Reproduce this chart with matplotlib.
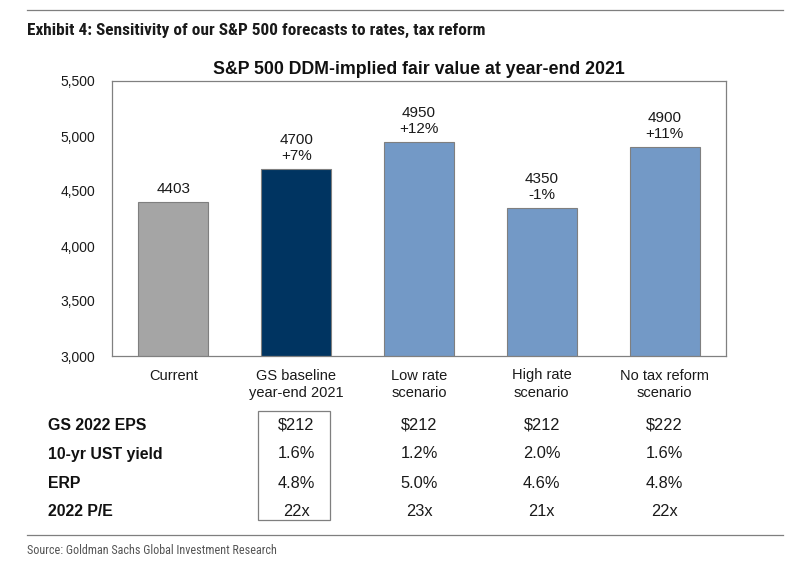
import matplotlib
matplotlib.use("Agg")
import matplotlib.pyplot as plt
from matplotlib.transforms import blended_transform_factory
from matplotlib import font_manager as fm

categories = ["Current", "GS baseline\nyear-end 2021", "Low rate\nscenario", "High rate\nscenario", "No tax reform\nscenario"]
values = [4403, 4700, 4950, 4350, 4900]
pct_labels = ["", "+7%", "+12%", "-1%", "+11%"]
bar_colors = ["#A5A5A5", "#003461", "#7399C6", "#7399C6", "#7399C6"]

row_labels = ["GS 2022 EPS", "10-yr UST yield", "ERP", "2022 P/E"]
eps = ["$212", "$212", "$212", "$222"]
ust = ["1.6%", "1.2%", "2.0%", "1.6%"]
erp = ["4.8%", "5.0%", "4.6%", "4.8%"]
pe = ["22x", "23x", "21x", "22x"]
table_rows = [eps, ust, erp, pe]

yticks = [3000, 3500, 4000, 4500, 5000, 5500]

names = {f.name for f in fm.fontManager.ttflist}
narrow = "DejaVu Sans"
for cand in ["Roboto Condensed", "Archivo Narrow", "Asap Condensed", "Barlow Semi Condensed", "Barlow Condensed"]:
    if cand in names:
        narrow = cand
        break
plt.rcParams['font.family'] = ['Liberation Sans', 'DejaVu Sans']

W, H = 803, 563
fig = plt.figure(figsize=(W / 100, H / 100), dpi=100)
ax = fig.add_axes([112 / W, 1 - 356 / H, 614 / W, 275 / H])

x = list(range(len(categories)))
ax.bar(x, values, width=0.57, color=bar_colors, edgecolor="#7F7F7F", linewidth=0.8)
ax.set_xlim(-0.5, len(categories) - 0.5)
ax.set_ylim(3000, 5500)
ax.set_yticks(yticks)
ax.set_yticklabels([f"{v:,}" for v in yticks])
ax.set_xticks(x)
ax.set_xticklabels(categories, linespacing=1.35)
ax.tick_params(axis='both', length=0, labelsize=10.5, colors="#1a1a1a")
ax.tick_params(axis='y', pad=12, labelsize=10)
ax.tick_params(axis='x', pad=9)
for s in ax.spines.values():
    s.set_color("#808080")
    s.set_linewidth(0.9)

for xi, v, p in zip(x, values, pct_labels):
    lab = f"{v}" if not p else f"{v}\n{p}"
    ax.annotate(lab, (xi, v), xytext=(0, 4), textcoords="offset points",
                ha="center", va="bottom", fontsize=11, linespacing=1.22, color="#1a1a1a")

ax.set_title("S&P 500 DDM-implied fair value at year-end 2021", fontsize=12.8,
             fontweight="bold", pad=5, color="#111111")

# header
fig.add_artist(plt.Line2D([27 / W, 783 / W], [1 - 10 / H, 1 - 10 / H], color="#7F7F7F", lw=0.9))
fig.text(27 / W, 1 - 30 / H, "Exhibit 4: Sensitivity of our S&P 500 forecasts to rates, tax reform",
         family=[narrow, 'DejaVu Sans'], fontweight="bold", fontsize=12.4, va="center", ha="left", color="#1a1a1a")

# table
tr = blended_transform_factory(ax.transData, fig.transFigure)
row_y = [425, 454, 483, 511]
for lab, ry, row in zip(row_labels, row_y, table_rows):
    fig.text(48 / W, 1 - ry / H, lab, fontsize=11.4, fontweight="bold", va="center", ha="left", color="#111111")
    for xi, val in zip(x[1:], row):
        ax.text(xi, 1 - ry / H, val, transform=tr, fontsize=11.8, va="center", ha="center",
                color="#1a1a1a", clip_on=False)

box = plt.Rectangle((0.69, 1 - 520 / H), 0.585, 109 / H, transform=tr, fill=False,
                    edgecolor="#7F7F7F", lw=0.9, clip_on=False)
fig.add_artist(box)

fig.add_artist(plt.Line2D([27 / W, 783 / W], [1 - 535 / H, 1 - 535 / H], color="#7F7F7F", lw=0.9))
fig.text(27 / W, 1 - 550 / H, "Source: Goldman Sachs Global Investment Research",
         family=[narrow, 'DejaVu Sans'], fontsize=8.7, va="center", ha="left", color="#555555")

fig.savefig("out.png", dpi=100)
